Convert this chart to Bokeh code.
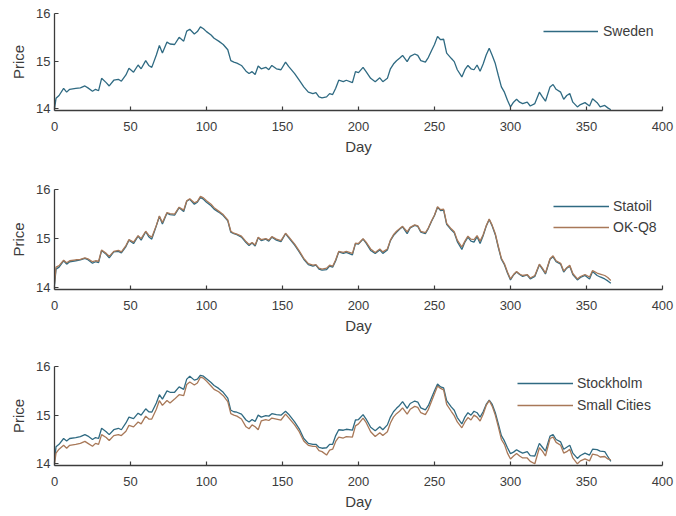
from bokeh.plotting import figure
from bokeh.layouts import column
from bokeh.models import Range1d, FixedTicker
from bokeh.embed import file_html
from bokeh.resources import INLINE

# Daily fuel price (per litre) over one year
day = [0, 1, 3, 6, 8, 10, 14, 17, 20, 22, 25, 27, 29, 31, 34, 36, 39, 42, 44, 47,
       49, 52, 55, 57, 60, 62, 64, 67, 69, 71, 74, 76, 79, 82, 85, 87, 89, 92, 94, 96,
       98, 100, 103, 105, 108, 111, 114, 116, 118, 120, 123, 126, 128, 130, 132, 134, 136, 139, 141, 143,
       146, 149, 152, 154, 158, 161, 164, 167, 170, 172, 174, 176, 179, 181, 183, 185, 187, 190, 192, 196,
       198, 200, 203, 205, 208, 211, 214, 216, 219, 221, 223, 225, 227, 229, 232, 234, 237, 239, 241, 244,
       246, 248, 250, 252, 254, 256, 258, 261, 263, 265, 268, 270, 272, 274, 276, 278, 280, 282, 284, 286,
       288, 290, 292, 294, 296, 298, 300, 302, 304, 306, 308, 311, 313, 316, 319, 321, 323, 326, 328, 330,
       333, 335, 337, 339, 341, 344, 346, 349, 352, 354, 357, 359, 362, 364, 366]

sweden = [14.00, 14.22, 14.28, 14.43, 14.35, 14.41, 14.43, 14.44, 14.48, 14.44, 14.37, 14.41, 14.38, 14.64, 14.55, 14.48, 14.60, 14.62, 14.58, 14.71,
          14.85, 14.77, 14.92, 14.84, 15.01, 14.91, 14.87, 15.13, 15.33, 15.17, 15.40, 15.36, 15.35, 15.50, 15.42, 15.63, 15.67, 15.57, 15.62, 15.72,
          15.68, 15.62, 15.55, 15.48, 15.42, 15.35, 15.24, 15.01, 14.98, 14.96, 14.91, 14.79, 14.74, 14.78, 14.72, 14.90, 14.84, 14.87, 14.82, 14.91,
          14.84, 14.82, 14.98, 14.89, 14.74, 14.60, 14.46, 14.35, 14.32, 14.34, 14.25, 14.23, 14.25, 14.32, 14.30, 14.43, 14.60, 14.57, 14.60, 14.55,
          14.78, 14.76, 14.87, 14.78, 14.64, 14.57, 14.65, 14.57, 14.64, 14.84, 14.94, 15.01, 15.06, 15.12, 14.99, 15.10, 15.15, 15.12, 15.01, 14.98,
          15.08, 15.22, 15.35, 15.52, 15.45, 15.46, 15.17, 15.06, 14.99, 14.82, 14.67, 14.82, 14.91, 14.84, 14.82, 14.92, 14.79, 14.94, 15.13, 15.27,
          15.12, 14.95, 14.70, 14.46, 14.35, 14.18, 14.04, 14.14, 14.20, 14.14, 14.11, 14.14, 14.06, 14.11, 14.35, 14.25, 14.16, 14.46, 14.51, 14.41,
          14.35, 14.20, 14.28, 14.32, 14.14, 14.04, 14.09, 14.13, 14.06, 14.21, 14.13, 14.04, 14.07, 14.02, 13.98]

statoil = [14.05, 14.38, 14.42, 14.55, 14.48, 14.53, 14.55, 14.57, 14.60, 14.57, 14.50, 14.53, 14.51, 14.76, 14.68, 14.61, 14.73, 14.74, 14.71, 14.84,
           14.97, 14.90, 15.05, 14.97, 15.14, 15.04, 14.99, 15.26, 15.45, 15.30, 15.52, 15.49, 15.48, 15.63, 15.55, 15.76, 15.80, 15.70, 15.74, 15.84,
           15.80, 15.74, 15.67, 15.60, 15.54, 15.47, 15.36, 15.13, 15.10, 15.08, 15.03, 14.92, 14.86, 14.91, 14.85, 15.02, 14.96, 14.99, 14.95, 15.03,
           14.97, 14.94, 15.10, 15.02, 14.87, 14.73, 14.58, 14.47, 14.44, 14.46, 14.38, 14.36, 14.37, 14.44, 14.42, 14.55, 14.73, 14.70, 14.72, 14.67,
           14.90, 14.89, 14.99, 14.91, 14.76, 14.70, 14.77, 14.70, 14.77, 14.96, 15.06, 15.13, 15.19, 15.24, 15.10, 15.22, 15.27, 15.25, 15.13, 15.10,
           15.21, 15.35, 15.47, 15.64, 15.57, 15.58, 15.29, 15.18, 15.12, 14.94, 14.78, 14.93, 15.03, 14.95, 14.93, 15.04, 14.90, 15.06, 15.25, 15.39,
           15.25, 15.08, 14.82, 14.58, 14.47, 14.30, 14.16, 14.26, 14.32, 14.27, 14.23, 14.26, 14.18, 14.23, 14.47, 14.38, 14.28, 14.58, 14.63, 14.53,
           14.48, 14.32, 14.40, 14.44, 14.27, 14.16, 14.21, 14.25, 14.18, 14.33, 14.25, 14.22, 14.18, 14.14, 14.09]

okq8 = [14.08, 14.42, 14.45, 14.56, 14.51, 14.55, 14.57, 14.58, 14.61, 14.59, 14.53, 14.55, 14.54, 14.77, 14.70, 14.64, 14.74, 14.76, 14.73, 14.86,
        14.98, 14.93, 15.06, 15.00, 15.15, 15.07, 15.03, 15.27, 15.46, 15.33, 15.53, 15.51, 15.50, 15.64, 15.58, 15.77, 15.81, 15.73, 15.76, 15.86,
        15.83, 15.77, 15.70, 15.63, 15.56, 15.49, 15.38, 15.15, 15.11, 15.09, 15.05, 14.94, 14.88, 14.92, 14.87, 15.03, 14.98, 15.00, 14.97, 15.04,
        14.99, 14.96, 15.11, 15.04, 14.89, 14.75, 14.60, 14.49, 14.46, 14.47, 14.40, 14.38, 14.40, 14.46, 14.44, 14.57, 14.74, 14.72, 14.74, 14.70,
        14.91, 14.90, 15.00, 14.93, 14.79, 14.72, 14.79, 14.73, 14.79, 14.97, 15.08, 15.15, 15.20, 15.25, 15.14, 15.23, 15.28, 15.26, 15.15, 15.12,
        15.22, 15.36, 15.48, 15.65, 15.59, 15.60, 15.31, 15.20, 15.14, 14.97, 14.83, 14.95, 15.05, 14.99, 14.98, 15.06, 14.95, 15.08, 15.26, 15.40,
        15.27, 15.10, 14.84, 14.60, 14.49, 14.32, 14.18, 14.27, 14.33, 14.28, 14.25, 14.27, 14.20, 14.25, 14.48, 14.40, 14.30, 14.59, 14.65, 14.55,
        14.50, 14.34, 14.41, 14.46, 14.29, 14.18, 14.23, 14.27, 14.22, 14.35, 14.30, 14.28, 14.25, 14.21, 14.15]

stockholm = [14.05, 14.35, 14.40, 14.52, 14.47, 14.52, 14.54, 14.56, 14.60, 14.57, 14.50, 14.54, 14.52, 14.73, 14.66, 14.60, 14.70, 14.73, 14.70, 14.84,
             14.96, 14.93, 15.04, 15.00, 15.13, 15.07, 15.06, 15.25, 15.42, 15.33, 15.50, 15.47, 15.47, 15.58, 15.53, 15.74, 15.80, 15.72, 15.74, 15.82,
             15.80, 15.75, 15.67, 15.61, 15.55, 15.47, 15.35, 15.10, 15.07, 15.06, 15.02, 14.90, 14.86, 14.91, 14.87, 15.00, 14.96, 14.99, 14.98, 15.03,
             15.01, 15.00, 15.08, 15.02, 14.86, 14.72, 14.52, 14.42, 14.40, 14.40, 14.34, 14.32, 14.33, 14.40, 14.40, 14.58, 14.70, 14.69, 14.71, 14.69,
             14.90, 14.91, 15.01, 14.92, 14.75, 14.68, 14.76, 14.70, 14.80, 14.96, 15.07, 15.14, 15.20, 15.28, 15.14, 15.24, 15.29, 15.27, 15.15, 15.11,
             15.20, 15.35, 15.50, 15.64, 15.58, 15.56, 15.30, 15.17, 15.10, 14.95, 14.82, 14.96, 15.05, 15.00, 15.08, 15.05, 14.96, 15.07, 15.22, 15.31,
             15.22, 15.05, 14.82, 14.58, 14.47, 14.33, 14.21, 14.24, 14.29, 14.25, 14.22, 14.25, 14.17, 14.16, 14.42, 14.34, 14.26, 14.57, 14.60, 14.50,
             14.45, 14.30, 14.34, 14.38, 14.22, 14.11, 14.17, 14.22, 14.18, 14.30, 14.29, 14.26, 14.25, 14.15, 14.05]

small_cities = [14.00, 14.22, 14.30, 14.38, 14.32, 14.38, 14.40, 14.42, 14.46, 14.42, 14.36, 14.42, 14.40, 14.60, 14.54, 14.48, 14.58, 14.60, 14.58, 14.67,
                14.79, 14.76, 14.86, 14.82, 14.98, 14.92, 14.92, 15.12, 15.30, 15.20, 15.30, 15.25, 15.33, 15.42, 15.40, 15.63, 15.68, 15.62, 15.66, 15.78,
                15.76, 15.70, 15.60, 15.53, 15.48, 15.40, 15.28, 15.03, 15.00, 14.98, 14.92, 14.76, 14.72, 14.80, 14.76, 14.70, 14.88, 14.91, 14.89, 14.94,
                14.92, 14.90, 15.02, 14.95, 14.80, 14.66, 14.47, 14.38, 14.36, 14.36, 14.27, 14.25, 14.18, 14.28, 14.30, 14.46, 14.55, 14.53, 14.56, 14.55,
                14.78, 14.82, 14.94, 14.85, 14.66, 14.56, 14.64, 14.58, 14.66, 14.84, 14.96, 15.03, 15.08, 15.15, 15.02, 15.12, 15.18, 15.16, 15.05, 15.01,
                15.12, 15.28, 15.44, 15.60, 15.55, 15.52, 15.22, 15.08, 14.99, 14.86, 14.74, 14.86, 14.95, 14.90, 15.00, 14.96, 14.88, 15.02, 15.20, 15.30,
                15.18, 15.00, 14.76, 14.50, 14.40, 14.22, 14.10, 14.16, 14.21, 14.16, 14.12, 14.12, 14.05, 14.00, 14.33, 14.26, 14.16, 14.52, 14.55, 14.44,
                14.38, 14.22, 14.25, 14.30, 14.12, 14.00, 14.06, 14.10, 14.06, 14.20, 14.18, 14.14, 14.15, 14.10, 14.08]

x_ticks = [0, 50, 100, 150, 200, 250, 300, 350, 400]
y_ticks = [14, 15, 16]

BLUE = "#2f6a82"
ORANGE = "#a87858"
INK = "#3c3c3c"
FONT = "Liberation Sans"


def panel(top, frame_h, series, legend_xy, glyph_w, standoff, spacing):
    p = figure(width=676, height=172, output_backend="svg", toolbar_location=None,
               x_range=Range1d(0, 400), y_range=Range1d(13.965, 16))
    p.min_border_left = 54
    p.min_border_right = 14
    p.min_border_top = top
    p.min_border_bottom = 172 - top - frame_h
    p.outline_line_color = None
    p.background_fill_color = "white"
    p.xgrid.visible = False
    p.ygrid.visible = False

    for ys, color, name in series:
        p.line(day, ys, line_color=color, line_width=1.3, legend_label=name)

    for ax, ticks, label in ((p.xaxis[0], x_ticks, "Day"), (p.yaxis[0], y_ticks, "Price")):
        ax.ticker = FixedTicker(ticks=ticks)
        ax.axis_label = label
        ax.axis_label_text_font = FONT
        ax.axis_label_text_font_style = "normal"
        ax.axis_label_text_font_size = "15px"
        ax.axis_label_text_color = INK
        ax.major_label_text_font = FONT
        ax.major_label_text_font_size = "13px"
        ax.major_label_text_color = INK
        ax.axis_line_color = INK
        ax.axis_line_width = 1.3
        ax.major_tick_line_color = INK
        ax.major_tick_line_width = 1.2
        ax.major_tick_in = 4
        ax.major_tick_out = 0
        ax.minor_tick_line_color = None
    p.xaxis[0].major_label_standoff = 11
    p.xaxis[0].axis_label_standoff = 4
    p.yaxis[0].major_label_standoff = 4
    p.yaxis[0].axis_label_standoff = 6

    lg = p.legend[0]
    lg.location = legend_xy
    lg.border_line_color = None
    lg.background_fill_alpha = 0
    lg.padding = 0
    lg.margin = 0
    lg.spacing = spacing
    lg.label_height = 18
    lg.glyph_height = 18
    lg.glyph_width = glyph_w
    lg.label_standoff = standoff
    lg.label_text_font = FONT
    lg.label_text_font_size = "14px"
    lg.label_text_color = INK
    return p


p1 = panel(13, 97, [(sweden, BLUE, "Sweden")], (489, 70), 55, 5, 3)
p2 = panel(17, 100, [(statoil, BLUE, "Statoil"), (okq8, ORANGE, "OK-Q8")], (499, 53), 56, 4, 3)
p3 = panel(22, 99, [(stockholm, BLUE, "Stockholm"), (small_cities, ORANGE, "Small Cities")], (463, 51), 56, 4, 4)

layout = column(p1, p2, p3, spacing=0)
open("out.html", "w").write(file_html(layout, INLINE))
